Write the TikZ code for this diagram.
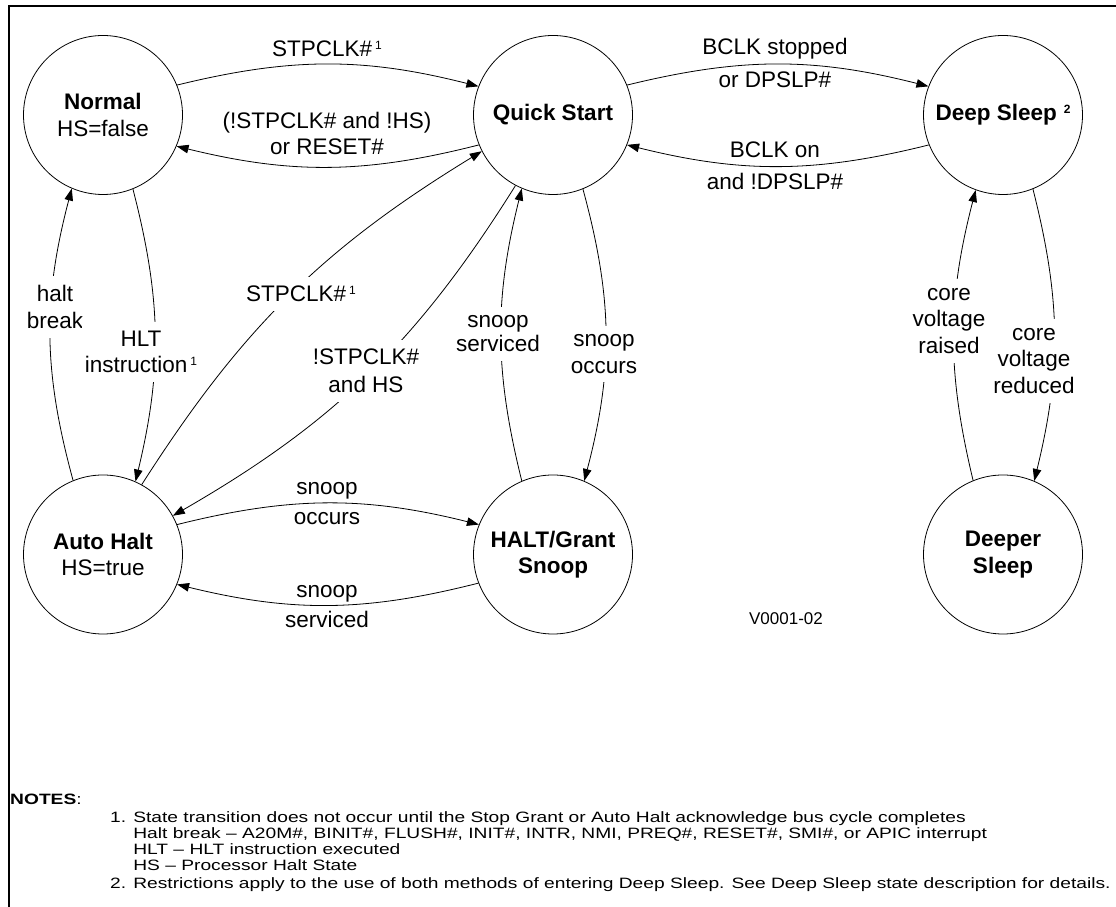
\documentclass[tikz,border=0pt]{standalone}
\usepackage{fontspec}
\setmainfont{Liberation Sans}
\newfontfamily\notefont[FakeStretch=1.28]{Liberation Sans}
\usetikzlibrary{arrows.meta}
\newcommand{\supone}{\hspace{3pt}\raisebox{7.5pt}{\fontsize{12}{12}\selectfont 1}}
\begin{document}
\begin{tikzpicture}[x=1pt,y=1pt,
  state/.style={circle,draw,line width=0.8pt,minimum size=159pt,inner sep=0pt,align=center,font=\fontsize{22.5}{26.5}\selectfont},
  conn/.style={line width=0.8pt,-{Triangle[length=12pt,width=8.5pt]}},
  lbl/.style={align=center,inner sep=0pt,font=\fontsize{22.5}{26.5}\selectfont},
  wlbl/.style={lbl,fill=white,inner xsep=3pt,inner ysep=9pt},
  note/.style={anchor=base west,inner sep=0pt,font=\notefont\fontsize{15}{15}\selectfont}
]
\useasboundingbox (0,0) rectangle (1116,907);
\draw[line width=2pt] (9,0) |- (1116,901);

% states
\node[state] (N)  at (103,792)   {\textbf{Normal}\\HS=false};
\node[state] (Q)  at (553,792)   {\textbf{Quick Start}};
\node[state] (D)  at (1003,792)  {\textbf{Deep Sleep}\hspace{7pt}\raisebox{7.5pt}{\fontsize{12}{12}\selectfont\bfseries 2}};
\node[state] (A)  at (103,352.5) {\textbf{Auto Halt}\\HS=true};
\node[state] (H)  at (553,352.5) {\textbf{HALT/Grant}\\\textbf{Snoop}};
\node[state] (DD) at (1003,352.5) {\textbf{Deeper}\\\textbf{Sleep}};

% transitions
\draw[conn] (N.22)  to[bend left=14] (Q.159);
\draw[conn] (Q.202) to[bend left=14] (N.337);
\draw[conn] (Q.22)  to[bend left=14] (D.159);
\draw[conn] (D.202) to[bend left=14] (Q.338);
\draw[conn] (A.22)  to[bend left=14] (H.158);
\draw[conn] (H.201) to[bend left=14] (A.338);
\draw[conn] (A.112) to[bend left=15] (N.247);
\draw[conn] (N.292) to[bend left=14] (A.66);
\draw[conn] (A.61)  to[bend left=13] (Q.207);
\draw[conn] (Q.242) to[bend left=14] (A.29);
\draw[conn] (H.113) to[bend left=14] (Q.247);
\draw[conn] (Q.292) to[bend left=15] (H.67);
\draw[conn] (DD.112) to[bend left=14] (D.250);
\draw[conn] (D.292) to[bend left=14] (DD.67);

% labels
\node[lbl]  (l1)  at (327,858)   {STPCLK\#\supone};
\node[lbl]  (l2)  at (327,773.5) {(!STPCLK\# and !HS)\\or RESET\#};
\node[lbl]  (l3)  at (775,843.7) {BCLK stopped\\[6.5pt]or DPSLP\#};
\node[lbl]  (l4)  at (775,741)   {BCLK on\\[5.5pt]and !DPSLP\#};
\node[wlbl] (l5)  at (55,600)    {halt\\break};
\node[wlbl] (l6)  at (141,555)   {HLT\\instruction\supone};
\node[wlbl] (l7)  at (301,613)   {STPCLK\#\supone};
\node[wlbl] (l8)  at (366,536)   {!STPCLK\#\\[1.5pt]and HS};
\node[wlbl] (l9)  at (498,573)   {snoop\\[-2.5pt]serviced};
\node[wlbl] (l10) at (604,553)   {snoop\\occurs};
\node[lbl]  (l11) at (327,403)   {snoop\\[3.5pt]occurs};
\node[lbl]  (l12) at (327,300)   {snoop\\[3.5pt]serviced};
\node[wlbl] (l13) at (949,586)   {core\\voltage\\raised};
\node[wlbl] (l14) at (1034,546)  {core\\voltage\\reduced};
\node[lbl,font=\fontsize{17}{17}\selectfont] (ver) at (786,288) {V0001-02};

% notes
\node[note] (nh) at (10,102) {\textbf{NOTES}:};
\node[note] (n1) at (110,84) {1. State transition does not occur until the Stop Grant or Auto Halt acknowledge bus cycle completes};
\node[note] (n2) at (110,68) {\hphantom{1. }Halt break – A20M\#, BINIT\#, FLUSH\#, INIT\#, INTR, NMI, PREQ\#, RESET\#, SMI\#, or APIC interrupt};
\node[note] (n3) at (110,52) {\hphantom{1. }HLT – HLT instruction executed};
\node[note] (n4) at (110,36) {\hphantom{1. }HS – Processor Halt State};
\node[note] (n5) at (110,18) {2. Restrictions apply to the use of both methods of entering Deep Sleep. See Deep Sleep state description for details.};
\end{tikzpicture}
\end{document}
